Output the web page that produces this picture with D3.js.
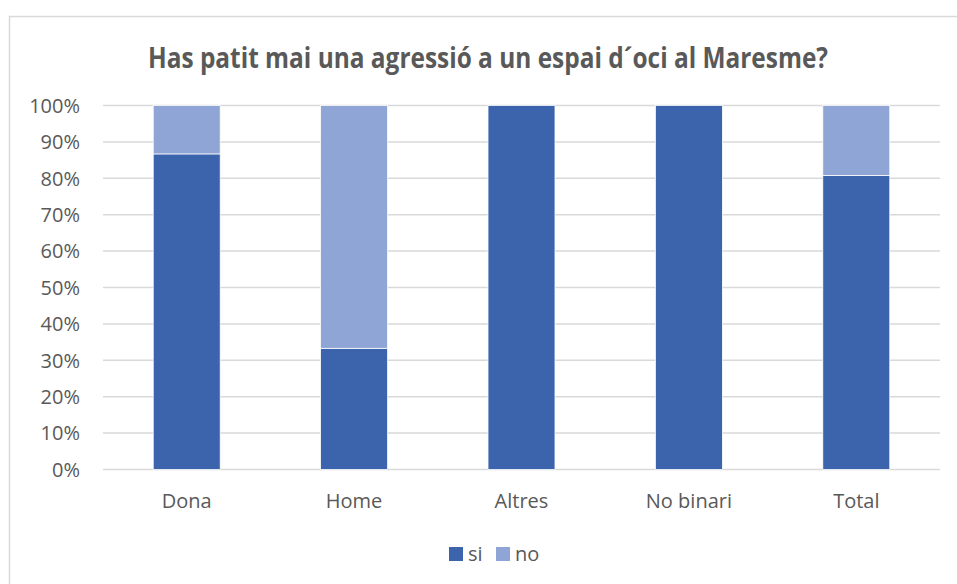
<!DOCTYPE html>
<meta charset="utf-8">
<style>
  body { margin: 0; background: #fff; }
  text { font-family: "Open Sans", sans-serif; fill: #595959; }
  .grid line { stroke: #d9d9d9; stroke-width: 1.5; }
</style>
<body>
<script src="https://d3js.org/d3.v7.min.js"></script>
<script>

var title = "Has patit mai una agressió a un espai d´oci al Maresme?";
var categories = ["Dona", "Home", "Altres", "No binari", "Total"];
var siValues = [0.867, 0.333, 1, 1, 0.808];
var noValues = [0.133, 0.667, 0, 0, 0.192];
var seriesNames = ["si", "no"];
var seriesColors = ["#3b64ad", "#8fa5d5"];
var yTicks = [0, 0.1, 0.2, 0.3, 0.4, 0.5, 0.6, 0.7, 0.8, 0.9, 1];

var width = 957, height = 584;
var margin = {top: 105.5, right: 17, bottom: 114.5, left: 103};

var svg = d3.select("body").append("svg")
    .attr("width", width)
    .attr("height", height);

// chart frame
svg.append("rect")
    .attr("x", 9.5).attr("y", 16.5)
    .attr("width", 970).attr("height", 600)
    .attr("fill", "#fff")
    .attr("stroke", "#d9d9d9")
    .attr("stroke-width", 1.5);

svg.append("text")
    .attr("x", 488).attr("y", 68)
    .attr("text-anchor", "middle")
    .attr("textLength", 680)
    .attr("lengthAdjust", "spacingAndGlyphs")
    .style("font-size", "28px")
    .style("font-weight", "bold")
    .text(title);

var x = d3.scaleBand()
    .domain(categories)
    .range([margin.left, width - margin.right])
    .paddingInner(0.6)
    .paddingOuter(0.3);

var y = d3.scaleLinear()
    .domain([0, 1])
    .range([height - margin.bottom, margin.top]);

// gridlines
svg.append("g")
    .attr("class", "grid")
    .selectAll("line")
    .data(yTicks)
    .enter().append("line")
    .attr("x1", margin.left)
    .attr("x2", width - margin.right)
    .attr("y1", function(d) { return y(d); })
    .attr("y2", function(d) { return y(d); });

// y labels
svg.append("g")
    .selectAll("text")
    .data(yTicks)
    .enter().append("text")
    .attr("x", 80)
    .attr("y", function(d) { return y(d); })
    .attr("dy", "0.36em")
    .attr("text-anchor", "end")
    .style("font-size", "20px")
    .text(d3.format(".0%"));

// stacked bars
var table = categories.map(function(c, i) {
  return {cat: c, si: siValues[i], no: noValues[i]};
});
var stacked = d3.stack().keys(seriesNames)(table);

svg.append("g")
    .selectAll("g")
    .data(stacked)
    .enter().append("g")
    .attr("fill", function(d, i) { return seriesColors[i]; })
    .selectAll("rect")
    .data(function(d) { return d; })
    .enter().append("rect")
    .filter(function(d) { return d[1] - d[0] > 0; })
    .attr("x", function(d) { return x(d.data.cat); })
    .attr("width", x.bandwidth())
    .attr("y", function(d) { return y(d[1]); })
    .attr("height", function(d) { return y(d[0]) - y(d[1]); })
    .attr("stroke", "#fff")
    .attr("stroke-width", 0.75);

// x labels
svg.append("g")
    .selectAll("text")
    .data(categories)
    .enter().append("text")
    .attr("x", function(d) { return x(d) + x.bandwidth() / 2; })
    .attr("y", 508)
    .attr("text-anchor", "middle")
    .style("font-size", "20px")
    .text(function(d) { return d; });

// legend
var legendX = [449, 496];
var legend = svg.append("g")
    .selectAll("g")
    .data(seriesNames)
    .enter().append("g")
    .attr("transform", function(d, i) { return "translate(" + legendX[i] + ",547)"; });

legend.append("rect")
    .attr("width", 14).attr("height", 14)
    .attr("fill", function(d, i) { return seriesColors[i]; });

legend.append("text")
    .attr("x", 19).attr("y", 14)
    .style("font-size", "20px")
    .text(function(d) { return d; });

</script>
</body>
